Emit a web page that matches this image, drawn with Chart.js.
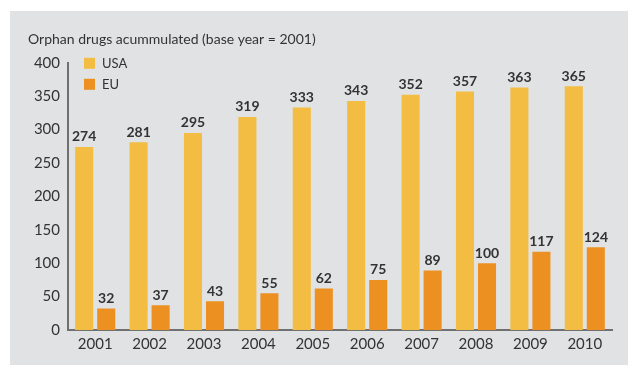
<!DOCTYPE html>
<html>
<head>
<meta charset="utf-8">
<script src="https://cdn.jsdelivr.net/npm/chart.js@4"></script>
<style>
    html, body { margin: 0; padding: 0; background: #ffffff; }
    body { width: 628px; height: 365px; position: relative; overflow: hidden; }
    #panel {
        position: absolute;
        left: 10px;
        top: 11px;
        width: 618px;
        height: 354px;
        background: #e1e2e4;
    }
</style>
</head>
<body>
<div id="panel"><canvas id="orphanChart" width="618" height="354"></canvas></div>

<script>
// datos
const years = ["2001", "2002", "2003", "2004", "2005", "2006", "2007", "2008", "2009", "2010"];
const usaValues = [274, 281, 295, 319, 333, 343, 352, 357, 363, 365];
const euValues = [32, 37, 43, 55, 62, 75, 89, 100, 117, 124];
const yTicks = [0, 50, 100, 150, 200, 250, 300, 350, 400];

const FONT = "Lato, 'Open Sans', sans-serif";
const TEXT_COLOR = "#333333";

// etiquetas de valor sobre cada barra
const valueLabels = {
    id: "valueLabels",
    afterDatasetsDraw(chart) {
        const ctx = chart.ctx;
        ctx.save();
        ctx.font = `bold 14px ${FONT}`;
        ctx.fillStyle = TEXT_COLOR;
        ctx.textAlign = "center";
        ctx.textBaseline = "bottom";
        chart.data.datasets.forEach((ds, i) => {
            const meta = chart.getDatasetMeta(i);
            meta.data.forEach((bar, j) => {
                ctx.fillText(String(ds.data[j]), bar.x, bar.y - 3);
            });
        });
        ctx.restore();
    },
};

// leyenda dentro del área del gráfico, arriba a la izquierda
const insideLegend = {
    id: "insideLegend",
    afterDraw(chart) {
        const ctx = chart.ctx;
        const area = chart.chartArea;
        ctx.save();
        ctx.font = `13px ${FONT}`;
        ctx.textAlign = "left";
        ctx.textBaseline = "middle";
        chart.data.datasets.forEach((ds, i) => {
            const x = area.left + 16;
            const y = area.top - 5 + i * 21;
            ctx.fillStyle = ds.backgroundColor;
            ctx.fillRect(x, y, 11, 11);
            ctx.fillStyle = TEXT_COLOR;
            ctx.fillText(ds.label, x + 18, y + 6);
        });
        ctx.restore();
    },
};

const ctx = document.getElementById("orphanChart");

new Chart(ctx, {
    type: "bar",
    data: {
        labels: years,
        datasets: [
            {
                label: "USA",
                data: usaValues,
                backgroundColor: "#f2bd42",
                categoryPercentage: 0.81,
                barPercentage: 0.82,
            },
            {
                label: "EU",
                data: euValues,
                backgroundColor: "#ec9022",
                categoryPercentage: 0.81,
                barPercentage: 0.82,
            },
        ],
    },
    options: {
        responsive: false,
        animation: false,
        layout: {
            padding: { left: 18, right: 16, top: 0, bottom: 0 },
        },
        plugins: {
            title: {
                display: true,
                text: "Orphan drugs acummulated (base year = 2001)",
                align: "start",
                color: TEXT_COLOR,
                font: { family: FONT, size: 14, weight: "normal" },
                padding: { top: 20, bottom: 15 },
            },
            legend: { display: false },
            tooltip: { enabled: false },
        },
        scales: {
            x: {
                grid: { display: false, drawTicks: false },
                border: { color: "#707070", width: 2 },
                ticks: {
                    color: TEXT_COLOR,
                    font: { family: FONT, size: 15 },
                    padding: 5,
                },
                afterFit(scale) {
                    scale.height = 35;
                },
            },
            y: {
                min: 0,
                max: 400,
                afterBuildTicks(scale) {
                    scale.ticks = yTicks.map((v) => ({ value: v }));
                },
                grid: { display: false, drawTicks: false },
                border: { color: "#707070", width: 2 },
                ticks: {
                    color: TEXT_COLOR,
                    font: { family: FONT, size: 15 },
                    padding: 8,
                },
                afterFit(scale) {
                    scale.width = 40;
                },
            },
        },
    },
    plugins: [valueLabels, insideLegend],
});
</script>
</body>
</html>
